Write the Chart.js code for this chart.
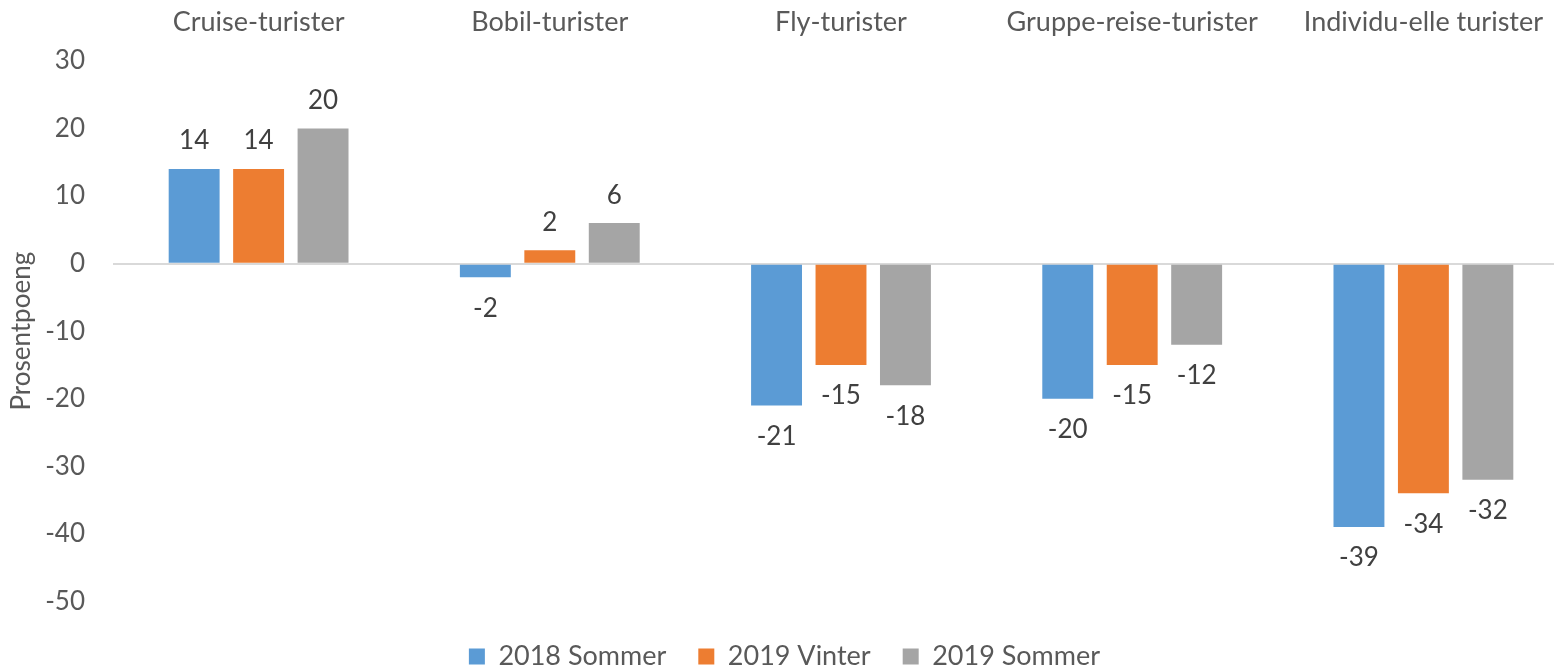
<!DOCTYPE html>
<html>
<head>
<meta charset="utf-8">
<script src="https://cdn.jsdelivr.net/npm/chart.js@4/dist/chart.umd.min.js"></script>
<style>
  html, body { margin: 0; padding: 0; background: #fff; overflow: hidden; }
  #wrap { width: 1554px; height: 668px; overflow: hidden; }
</style>
</head>
<body>
<div id="wrap">
  <canvas id="TouristChart" width="1572" height="680"></canvas>
</div>
<script>
const categories = ["Cruise-turister", "Bobil-turister", "Fly-turister", "Gruppe-reise-turister", "Individu-elle turister"]
const sommer2018 = [14, -2, -21, -20, -39]
const vinter2019 = [14, 2, -15, -15, -34]
const sommer2019 = [20, 6, -18, -12, -32]
const yTicks = [30, 20, 10, 0, -10, -20, -30, -40, -50]

const FONT = "Lato, 'Open Sans', sans-serif"
const TEXT = "#595959"

// value labels above positive bars, below negative ones
const barLabels = {
	id: "barLabels",
	afterDatasetsDraw(chart) {
		const ctx = chart.ctx
		ctx.save()
		ctx.font = "26px " + FONT
		ctx.fillStyle = "#404040"
		ctx.textAlign = "center"
		ctx.textBaseline = "middle"
		chart.data.datasets.forEach((ds, i) => {
			chart.getDatasetMeta(i).data.forEach((bar, j) => {
				const v = ds.data[j]
				const y = v >= 0 ? bar.y - 28 : bar.y + 31
				ctx.fillText(String(v), bar.x, y)
			})
		})
		ctx.restore()
	},
}

const ctx = document.getElementById("TouristChart").getContext("2d")

new Chart(ctx, {
	type: "bar",
	data: {
		labels: categories,
		datasets: [
			{ label: "2018 Sommer", data: sommer2018, backgroundColor: "#5b9bd5" },
			{ label: "2019 Vinter", data: vinter2019, backgroundColor: "#ed7d31" },
			{ label: "2019 Sommer", data: sommer2019, backgroundColor: "#a5a5a5" },
		],
	},
	options: {
		responsive: false,
		animation: false,
		devicePixelRatio: 1,
		categoryPercentage: 0.664,
		barPercentage: 0.79,
		layout: { padding: { left: 0, right: 3, top: 0, bottom: 0 } },
		plugins: {
			tooltip: { enabled: false },
			legend: {
				position: "bottom",
				// empty title only adds some space above the legend row
				title: { display: true, text: "", padding: 0, font: { size: 8 } },
				labels: {
					boxWidth: 16,
					boxHeight: 16,
					padding: 32,
					color: TEXT,
					font: { family: FONT, size: 27 },
				},
			},
		},
		scales: {
			x: {
				position: "top",
				grid: { display: false },
				border: { display: false },
				ticks: {
					color: TEXT,
					padding: 15,
					maxRotation: 0,
					autoSkip: false,
					font: { family: FONT, size: 27 },
				},
				afterFit: (scale) => { scale.height = 61 },
			},
			y: {
				min: -50,
				max: 30,
				afterBuildTicks: (scale) => { scale.ticks = yTicks.map((v) => ({ value: v })) },
				grid: {
					drawTicks: false,
					lineWidth: 2,
					color: (c) => (c.tick && c.tick.value === 0 ? "#d9d9d9" : "rgba(0,0,0,0)"),
				},
				border: { display: false },
				ticks: {
					color: TEXT,
					padding: 28,
					font: { family: FONT, size: 26 },
				},
				title: {
					display: true,
					text: "Prosentpoeng",
					color: TEXT,
					padding: { top: 6, bottom: 0 },
					font: { family: FONT, size: 26 },
				},
				afterFit: (scale) => { scale.width = 113 },
			},
		},
	},
	plugins: [barLabels],
})
</script>
</body>
</html>
